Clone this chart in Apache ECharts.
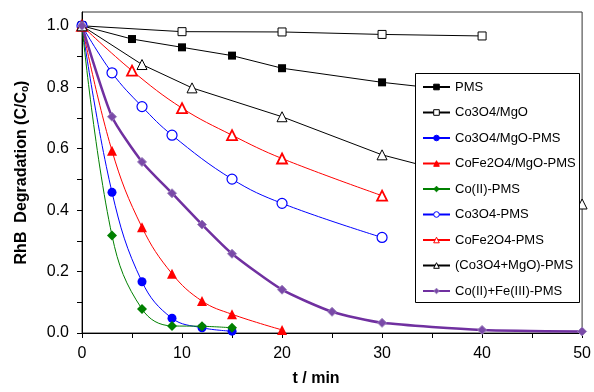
<!DOCTYPE html>
<html>
<head>
<meta charset="utf-8">
<script src="https://cdn.jsdelivr.net/npm/echarts@6/dist/echarts.min.js"></script>
<style>
  html, body { margin: 0; padding: 0; background: #fff; }
  #chart { width: 594px; height: 392px; }
</style>
</head>
<body>
<div id="chart"></div>
<script>
// time (min) and C/Co for each run
var tPMS = [0, 5, 10, 15, 20, 30, 40];
var vPMS = [1.0, 0.957, 0.930, 0.903, 0.862, 0.816, 0.78];

var tCoMgO = [0, 10, 20, 30, 40];
var vCoMgO = [1.0, 0.981, 0.980, 0.972, 0.967];

var tCoMgOPMS = [0, 3, 6, 9, 12, 15];
var vCoMgOPMS = [1.0, 0.458, 0.167, 0.048, 0.017, 0.006];

var tCoFeMgOPMS = [0, 3, 6, 9, 12, 15, 20];
var vCoFeMgOPMS = [1.0, 0.593, 0.344, 0.193, 0.104, 0.061, 0.010];

var tCoII = [0, 3, 6, 9, 12, 15];
var vCoII = [1.0, 0.317, 0.078, 0.023, 0.022, 0.017];

var tCo3O4PMS = [0, 3, 6, 9, 15, 20, 30];
var vCo3O4PMS = [1.0, 0.847, 0.737, 0.644, 0.501, 0.422, 0.311];

var tCoFePMS = [0, 5, 10, 15, 20, 30];
var vCoFePMS = [1.0, 0.854, 0.732, 0.644, 0.568, 0.447];

var tMix = [0, 6, 11, 20, 30, 40, 50];
var vMix = [1.0, 0.874, 0.798, 0.704, 0.580, 0.495, 0.42];

var tCoFe = [0, 3, 6, 9, 12, 15, 20, 25, 30, 40, 50];
var vCoFe = [1.0, 0.704, 0.557, 0.455, 0.353, 0.258, 0.141, 0.069, 0.033, 0.010, 0.005];

var xTicks = [0, 5, 10, 15, 20, 25, 30, 35, 40, 45, 50];
var xLabels = [0, 10, 20, 30, 40, 50];
var yTicks = [0, 0.1, 0.2, 0.3, 0.4, 0.5, 0.6, 0.7, 0.8, 0.9, 1.0];
var yLabels = [0, 0.2, 0.4, 0.6, 0.8, 1.0];

function pairs(t, v) {
    return t.map(function (x, i) { return [x, v[i]]; });
}

function mk(name, t, v, symbol, size, color, open, smooth, width) {
    return {
        name: name,
        type: 'line',
        data: pairs(t, v),
        symbol: symbol,
        symbolSize: size,
        smooth: smooth,
        lineStyle: { color: color, width: width || 1 },
        itemStyle: open
            ? { color: '#fff', borderColor: color, borderWidth: open }
            : { color: color, borderColor: color, borderWidth: 0 }
    };
}

var chart = echarts.init(document.getElementById('chart'));
var option = {
    animation: false,
    textStyle: { fontFamily: 'Liberation Sans, Arial, sans-serif', color: '#000' },
    grid: { left: 82, right: 10, top: 12, bottom: 57.5, show: true, borderColor: '#333', borderWidth: 1 },
    // legend frame drawn separately so its size matches; above lines (z 3), below legend
    graphic: {
        z: 3.5,
        elements: [{
            type: 'rect',
            z: 3.5,
            left: 415,
            top: 73,
            shape: { width: 164, height: 229 },
            style: { fill: '#fff', stroke: '#000', lineWidth: 1 }
        }]
    },
    legend: {
        orient: 'vertical',
        left: 415,
        top: 73,
        z: 5,
        padding: [7, 6, 4, 7],
        itemWidth: 27,
        itemHeight: 7,
        itemGap: 11.5,
        itemStyle: { borderWidth: 1 },
        textStyle: { fontSize: 13, lineHeight: 14, color: '#000', fontFamily: 'Liberation Sans' }
    },
    xAxis: {
        type: 'value',
        min: 0,
        max: 50,
        interval: 5,
        name: 't / min',
        nameLocation: 'middle',
        nameGap: 38,
        nameTextStyle: { fontSize: 16, fontWeight: 'bold', padding: [0, 32, 0, 0] },
        axisLine: { lineStyle: { color: '#000', width: 1 } },
        axisTick: { show: true, length: 5, customValues: xTicks, lineStyle: { color: '#000' } },
        axisLabel: { fontSize: 16, margin: 13, color: '#000', customValues: xLabels },
        splitLine: { show: false }
    },
    yAxis: {
        type: 'value',
        min: 0,
        max: 1.045,
        name: 'RhB  Degradation (C/C{sub|o})',
        nameLocation: 'middle',
        nameGap: 52,
        nameTextStyle: {
            fontSize: 16, fontWeight: 'bold',
            rich: { sub: { fontSize: 10, fontWeight: 'bold', verticalAlign: 'bottom', padding: [6, 0, 0, 0] } }
        },
        axisLine: { show: true, lineStyle: { color: '#000', width: 1 } },
        axisTick: { show: true, length: 5, customValues: yTicks, lineStyle: { color: '#000' } },
        axisLabel: {
            fontSize: 16, margin: 13, color: '#000', customValues: yLabels,
            formatter: function (v) { return v.toFixed(1); }
        },
        splitLine: { show: false }
    },
    series: [
        mk('PMS', tPMS, vPMS, 'rect', 8, '#000', 0, false),
        mk('Co3O4/MgO', tCoMgO, vCoMgO, 'rect', 8, '#000', 1, false),
        mk('Co3O4/MgO-PMS', tCoMgOPMS, vCoMgOPMS, 'circle', 9, '#0000ff', 0, 0.4),
        mk('CoFe2O4/MgO-PMS', tCoFeMgOPMS, vCoFeMgOPMS, 'triangle', 10, '#ff0000', 0, 0.4),
        mk('Co(II)-PMS', tCoII, vCoII, 'diamond', 10, '#008000', 0, 0.4),
        mk('Co3O4-PMS', tCo3O4PMS, vCo3O4PMS, 'circle', 10, '#0000ff', 1.2, 0.4),
        mk('CoFe2O4-PMS', tCoFePMS, vCoFePMS, 'triangle', 10, '#ff0000', 1.8, 0.4),
        mk('(Co3O4+MgO)-PMS', tMix, vMix, 'triangle', 10, '#000', 1, false),
        mk('Co(II)+Fe(III)-PMS', tCoFe, vCoFe, 'diamond', 9, '#7030a0', 0, 0.2, 2.5)
    ]
};
option.series[8].itemStyle = { color: '#7a4aa8', borderColor: '#9a80bb', borderWidth: 1 };
chart.setOption(option);
</script>
</body>
</html>
